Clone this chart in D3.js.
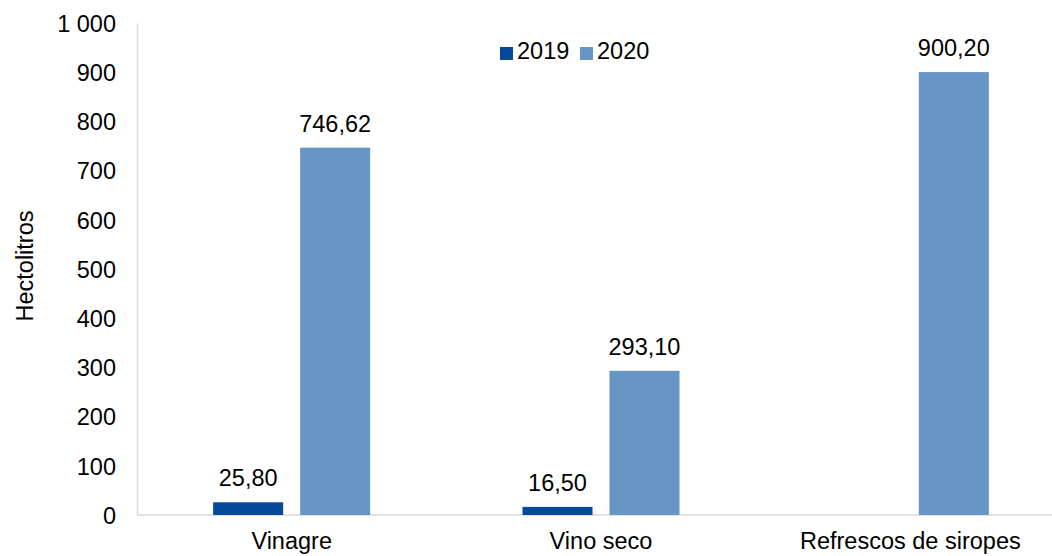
<!DOCTYPE html>
<html>
<head>
<meta charset="utf-8">
<script src="https://cdn.jsdelivr.net/npm/d3@7"></script>
<style>
  body { margin: 0; background: #fff; }
  text { font-family: "Liberation Sans", Arial, sans-serif; fill: #000; }
</style>
</head>
<body>
<div id="chart"></div>
<script>
// data
var categories = ["Vinagre", "Vino seco", "Refrescos de siropes"];
var years = ["2019", "2020"];
var values2019 = [25.80, 16.50, null];
var values2020 = [746.62, 293.10, 900.20];
var yTicks = [0, 100, 200, 300, 400, 500, 600, 700, 800, 900, 1000];
var colors = ["#05499b", "#6795c6"];

var width = 1052, height = 556;
var margin = {top: 23, left: 137, bottom: 41};
var plotRight = 1065;
var fs = "23.5px";

var svg = d3.select("#chart").append("svg")
    .attr("width", width)
    .attr("height", height);

var x0 = d3.scaleBand()
    .domain(categories)
    .range([margin.left, plotRight])
    .paddingInner(0.4924)
    .paddingOuter(0.2462);

var x1 = d3.scaleBand()
    .domain(years)
    .range([0, x0.bandwidth()])
    .paddingInner(0.195);

var y = d3.scaleLinear()
    .domain([0, 1000])
    .range([height - margin.bottom, margin.top]);

var fmt = function(v) { return v.toFixed(2).replace(".", ","); };
var tickFmt = function(v) { return v >= 1000 ? "1 000" : String(v); };

// y axis
var yAxis = svg.append("g")
    .attr("transform", "translate(" + margin.left + ",0)")
    .call(d3.axisLeft(y).tickValues(yTicks).tickFormat(tickFmt).tickSize(0).tickPadding(21));
yAxis.select(".domain").attr("stroke", "#d9d9d9").attr("stroke-width", 1.5);
yAxis.selectAll("text").style("font-size", fs).attr("dy", "0.35em");

// y title
svg.append("text")
    .attr("transform", "translate(33," + ((y(0) + y(1000)) / 2 - 3) + ") rotate(-90)")
    .attr("text-anchor", "middle")
    .style("font-size", fs)
    .text("Hectolitros");

// x axis baseline + labels
var xAxis = svg.append("g")
    .attr("transform", "translate(0," + y(0) + ")")
    .call(d3.axisBottom(x0).tickSize(0).tickPadding(17));
xAxis.select(".domain").remove();
xAxis.append("line")
    .attr("x1", margin.left).attr("x2", width)
    .attr("y1", 0).attr("y2", 0)
    .attr("stroke", "#d9d9d9").attr("stroke-width", 1.5);
xAxis.selectAll("text").style("font-size", fs).attr("dy", "0.71em");

// bars
var rows = categories.map(function(c, i) {
    return {cat: c, vals: [values2019[i], values2020[i]]};
});

var groups = svg.selectAll(".grp")
    .data(rows)
    .enter().append("g")
    .attr("class", "grp")
    .attr("transform", function(d) { return "translate(" + x0(d.cat) + ",0)"; });

var cells = groups.selectAll(".cell")
    .data(function(d) {
        return years.map(function(yr, j) { return {year: yr, value: d.vals[j], idx: j}; })
            .filter(function(e) { return e.value != null; });
    })
    .enter().append("g");

cells.append("rect")
    .attr("x", function(d) { return x1(d.year); })
    .attr("width", x1.bandwidth())
    .attr("y", function(d) { return y(d.value); })
    .attr("height", function(d) { return y(0) - y(d.value); })
    .attr("fill", function(d) { return colors[d.idx]; });

cells.append("text")
    .attr("x", function(d) { return x1(d.year) + x1.bandwidth() / 2; })
    .attr("y", function(d) { return y(d.value) - 16; })
    .attr("text-anchor", "middle")
    .style("font-size", fs)
    .text(function(d) { return fmt(d.value); });

// legend
var legendX = [500, 580];
var legend = svg.selectAll(".lg")
    .data(years)
    .enter().append("g")
    .attr("transform", function(d, i) { return "translate(" + legendX[i] + ",47)"; });
legend.append("rect")
    .attr("width", 13).attr("height", 13)
    .attr("fill", function(d, i) { return colors[i]; });
legend.append("text")
    .attr("x", 17).attr("y", 12)
    .style("font-size", fs)
    .text(function(d) { return d; });
</script>
</body>
</html>
